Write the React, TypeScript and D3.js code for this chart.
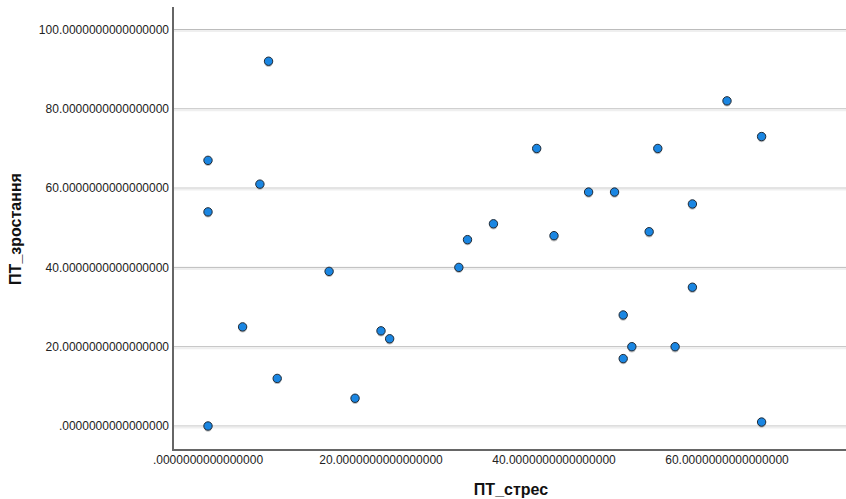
import React from "react";
import * as d3 from "d3";

const stressValues = [0, 0, 0, 7, 6, 4, 8, 14, 17, 20, 21, 29, 30, 33, 38, 40, 44, 47, 48, 48, 49, 51, 52, 54, 56, 56, 60, 64, 64];
const growthValues = [0, 54, 67, 92, 61, 25, 12, 39, 7, 24, 22, 40, 47, 51, 70, 48, 59, 59, 28, 17, 20, 49, 70, 20, 56, 35, 82, 73, 1];
const xTicks = [0, 20, 40, 60];
const yTicks = [0, 20, 40, 60, 80, 100];
const xTitle = "ПТ_стрес";
const yTitle = "ПТ_зростання";

const fmt = (v: number) => (v === 0 ? "" : String(v)) + "." + "0".repeat(16);

export default function App() {
  const W = 846, H = 499;
  const left = 173, right = 846, top = 7, bottom = 450;
  const x = d3.scaleLinear().domain([0, 60]).range([208, 727]);
  const y = d3.scaleLinear().domain([0, 100]).range([426, 29.5]);
  const pts = stressValues.map((s, i) => ({ s, g: growthValues[i] }));
  return (
    <svg width={W} height={H} style={{ position: "absolute", left: 0, top: 0, fontFamily: "'Liberation Sans', Arial, sans-serif" }}>
      <rect width={W} height={H} fill="#fff" />
      {yTicks.map((t) => (
        <g key={"g" + t}>
          <line x1={left} x2={right} y1={y(t)} y2={y(t)} stroke="#bcbcbc" strokeWidth={1} />
          <line x1={left} x2={right} y1={y(t) + 1.5} y2={y(t) + 1.5} stroke="#efefef" strokeWidth={2} />
          <text x={169} y={y(t)} dy="0.35em" textAnchor="end" fontSize={12} fill="#222">{fmt(t)}</text>
        </g>
      ))}
      {xTicks.map((t) => (
        <text key={"x" + t} x={x(t)} y={464} textAnchor="middle" fontSize={12} fill="#222">{fmt(t)}</text>
      ))}
      <line x1={left} x2={left} y1={top} y2={bottom + 1} stroke="#666" strokeWidth={2} />
      <line x1={left - 1} x2={right} y1={bottom} y2={bottom} stroke="#666" strokeWidth={2} />
      {pts.map((p, i) => (
        <g key={"p" + i}>
          <circle cx={x(p.s)} cy={y(p.g) + 1.5} r={4.2} fill="#999" opacity={0.6} />
          <circle cx={x(p.s)} cy={y(p.g)} r={4.2} fill="#1a86e2" stroke="#1f2a36" strokeWidth={1} />
        </g>
      ))}
      <text x={511} y={495} textAnchor="middle" fontSize={16} fontWeight="bold" fill="#111">{xTitle}</text>
      <text transform={`translate(21,229) rotate(-90)`} textAnchor="middle" fontSize={16} fontWeight="bold" fill="#111">{yTitle}</text>
    </svg>
  );
}
